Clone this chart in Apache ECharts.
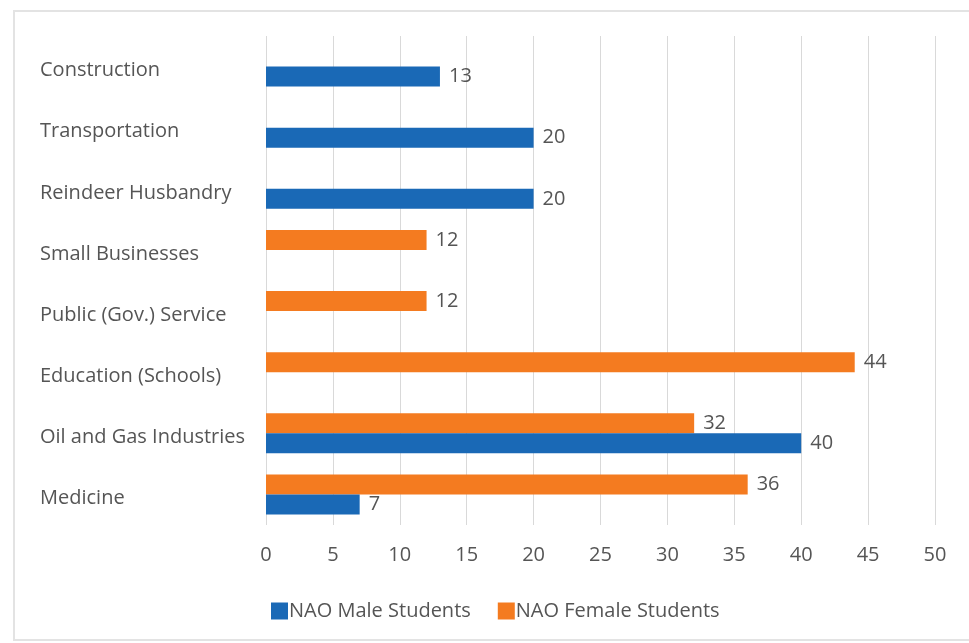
<!DOCTYPE html>
<html>
<head>
<meta charset="utf-8">
<script src="https://cdn.jsdelivr.net/npm/echarts@6/dist/echarts.min.js"></script>
<style>
  html, body { margin: 0; padding: 0; background: #ffffff; }
  #frame { position: absolute; left: 13px; top: 10px; width: 980px; height: 631px; border: 2px solid #e3e3e3; box-sizing: border-box; }
  #chart { position: absolute; left: 0; top: 0; width: 969px; height: 643px; }
</style>
</head>
<body>
<div id="frame"></div>
<div id="chart"></div>
<script>
// Sectors, listed top to bottom
const categories = [
  'Construction',
  'Transportation',
  'Reindeer Husbandry',
  'Small Businesses',
  'Public (Gov.) Service',
  'Education (Schools)',
  'Oil and Gas Industries',
  'Medicine'
];
const maleStudents   = [13, 20, 20, null, null, null, 40, 7];
const femaleStudents = [null, null, null, 12, 12, 44, 32, 36];
const xTicks = { min: 0, max: 50, interval: 5 };

const textColor = '#555555';
const font = '"Open Sans", "Noto Sans", sans-serif';

const chart = echarts.init(document.getElementById('chart'), null, { renderer: 'canvas' });

const valueLabel = {
  show: true,
  position: 'right',
  distance: 9,
  color: textColor,
  fontFamily: font,
  fontSize: 20
};

chart.setOption({
  animation: false,
  backgroundColor: 'transparent',
  textStyle: { fontFamily: font },
  grid: { left: 266, right: 34, top: 36, bottom: 118, containLabel: false },
  legend: {
    top: 596,
    left: 266,
    itemWidth: 17,
    itemHeight: 17,
    itemGap: 27,
    icon: 'rect',
    textStyle: { color: textColor, fontFamily: font, fontSize: 20, padding: [0, 0, 0, -4] },
    data: ['NAO Male Students', 'NAO Female Students']
  },
  xAxis: {
    type: 'value',
    min: xTicks.min,
    max: xTicks.max,
    interval: xTicks.interval,
    axisLine: { show: false },
    axisTick: { show: false },
    axisLabel: { color: textColor, fontFamily: font, fontSize: 20, margin: 20 },
    splitLine: { show: true, lineStyle: { color: '#d9d9d9', width: 1 } }
  },
  yAxis: {
    type: 'category',
    inverse: true,
    data: categories,
    axisLine: { show: false },
    axisTick: { show: false },
    splitLine: { show: false },
    axisLabel: {
      color: textColor,
      fontFamily: font,
      fontSize: 20,
      align: 'left',
      verticalAlign: 'top',
      lineHeight: 8,
      margin: 226
    }
  },
  series: [
    {
      name: 'NAO Female Students',
      type: 'bar',
      data: femaleStudents,
      barWidth: 20,
      barGap: '0%',
      itemStyle: { color: '#f47b20' },
      label: valueLabel
    },
    {
      name: 'NAO Male Students',
      type: 'bar',
      data: maleStudents,
      barWidth: 20,
      barGap: '0%',
      itemStyle: { color: '#1a69b6' },
      label: valueLabel
    }
  ]
});
</script>
</body>
</html>
